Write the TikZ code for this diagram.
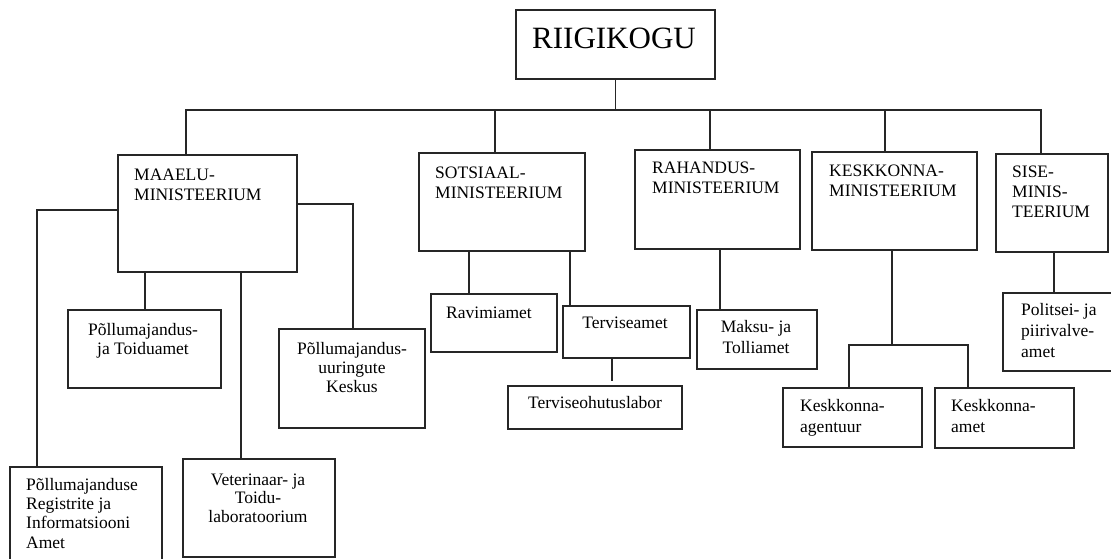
\documentclass[tikz,border=0pt]{standalone}
\usepackage{fontspec}
\setmainfont{Liberation Serif}
\newcommand\firstln{\rule{0pt}{13pt}}
\begin{document}
\begin{tikzpicture}[x=1pt,y=-1pt,
  boxnode/.style={draw=black!85, line width=1.6pt, inner sep=0pt, anchor=north west, rectangle},
  txt/.style={inner sep=0pt, font=\fontsize{17.5}{20}\selectfont, text=black},
  ltxt/.style={txt, anchor=north west, align=left},
  ctxt/.style={txt, anchor=north, align=center},
  conn/.style={draw=black!85, line width=1.5pt}]
\useasboundingbox (0,0) rectangle (1111,558);
\fill[white] (0,0) rectangle (1111,558);
\clip (0,0) rectangle (1111,558);

% boxes
\node[boxnode, minimum width=199pt, minimum height=69pt] (rii) at (515,9) {};
\node[boxnode, minimum width=179pt, minimum height=117pt] (maa) at (117,154) {};
\node[boxnode, minimum width=166pt, minimum height=98pt] (sot) at (418,152) {};
\node[boxnode, minimum width=165pt, minimum height=99pt] (rah) at (634,149) {};
\node[boxnode, minimum width=165pt, minimum height=98pt] (kk) at (811,151) {};
\node[boxnode, minimum width=112pt, minimum height=98pt] (sis) at (995,153) {};
\node[boxnode, minimum width=153pt, minimum height=78pt] (pta) at (67,309) {};
\node[boxnode, minimum width=146pt, minimum height=99pt] (puk) at (278,328) {};
\node[boxnode, minimum width=152pt, minimum height=134pt] (reg) at (9,466) {};
\node[boxnode, minimum width=152pt, minimum height=98pt] (vet) at (182,458) {};
\node[boxnode, minimum width=126pt, minimum height=58pt] (rav) at (430,293) {};
\node[boxnode, minimum width=127pt, minimum height=52pt] (ter) at (562,305) {};
\node[boxnode, minimum width=174pt, minimum height=43pt] (lab) at (507,385) {};
\node[boxnode, minimum width=120pt, minimum height=59pt] (mak) at (696,309) {};
\node[boxnode, minimum width=139pt, minimum height=59pt] (kag) at (782,387) {};
\node[boxnode, minimum width=139pt, minimum height=60pt] (kam) at (934,387) {};
\node[boxnode, minimum width=128pt, minimum height=78pt] (pol) at (1002,292) {};

% texts
\node[txt, font=\fontsize{31}{36}\selectfont, anchor=base] (trii) at (614,48) {RIIGIKOGU};
\node[ltxt] (tmaa) at (134,167) {\firstln MAAELU-\\MINISTEERIUM};
\node[ltxt] (tsot) at (435,165) {\firstln SOTSIAAL-\\MINISTEERIUM};
\node[ltxt] (trah) at (652,160) {\firstln RAHANDUS-\\MINISTEERIUM};
\node[ltxt] (tkk) at (829,163) {\firstln KESKKONNA-\\MINISTEERIUM};
\node[ltxt] (tsis) at (1012,164) {\firstln SISE-\\MINIS-\\TEERIUM};
\node[ctxt, font=\fontsize{17.5}{19}\selectfont] (tpta) at (143,322) {\firstln Põllumajandus-\\ja Toiduamet};
\node[ctxt, font=\fontsize{17.5}{19}\selectfont] (tpuk) at (352,341) {\firstln Põllumajandus-\\uuringute\\Keskus};
\node[ltxt, font=\fontsize{17.5}{19.3}\selectfont] (treg) at (26,477) {\firstln Põllumajanduse\\Registrite ja\\Informatsiooni\\Amet};
\node[ctxt, font=\fontsize{17.5}{18.5}\selectfont] (tvet) at (258,472) {\firstln Veterinaar- ja\\Toidu-\\laboratoorium};
\node[ctxt] (trav) at (489,305) {\firstln Ravimiamet};
\node[ctxt] (tter) at (625,315) {\firstln Terviseamet};
\node[ctxt] (tlab) at (595,395) {\firstln Terviseohutuslabor};
\node[ctxt, font=\fontsize{17.5}{21}\selectfont] (tmak) at (756,319) {\firstln Maksu- ja\\Tolliamet};
\node[ltxt, font=\fontsize{17.5}{21}\selectfont] (tkag) at (800,398) {\firstln Keskkonna-\\agentuur};
\node[ltxt, font=\fontsize{17.5}{21}\selectfont] (tkam) at (951,398) {\firstln Keskkonna-\\amet};
\node[ltxt, font=\fontsize{17.5}{21}\selectfont] (tpol) at (1021,302) {\firstln Politsei- ja\\piirivalve-\\amet};

% connector coordinates
\coordinate (busL) at (186,110);
\coordinate (busR) at (1041,110);
\coordinate (dS) at (495,110);
\coordinate (dR) at (710,110);
\coordinate (dK) at (885,110);
\coordinate (mL) at (37,210);
\coordinate (mR) at (353,204);
\coordinate (m1) at (145,0);
\coordinate (m2) at (241,0);
\coordinate (s1) at (469,0);
\coordinate (s2) at (570,0);
\coordinate (t1) at (612,0);
\coordinate (r1) at (720,0);
\coordinate (k1) at (892,345);
\coordinate (kL) at (849,345);
\coordinate (kR) at (968,345);
\coordinate (p1) at (1054,0);

% connectors
\draw[conn] (rii.south) -- (rii.south |- busL);
\draw[conn] (busL |- maa.north) -- (busL) -- (busR) -- (busR |- sis.north);
\draw[conn] (dS) -- (dS |- sot.north);
\draw[conn] (dR) -- (dR |- rah.north);
\draw[conn] (dK) -- (dK |- kk.north);
\draw[conn] (mL -| maa.west) -- (mL) -- (mL |- reg.north);
\draw[conn] (mR -| maa.east) -- (mR) -- (mR |- puk.north);
\draw[conn] (m1 |- maa.south) -- (m1 |- pta.north);
\draw[conn] (m2 |- maa.south) -- (m2 |- vet.north);
\draw[conn] (s1 |- sot.south) -- (s1 |- rav.north);
\draw[conn] (s2 |- sot.south) -- (s2 |- ter.north);
\draw[conn, shorten >=4pt] (t1 |- ter.south) -- (t1 |- lab.north);
\draw[conn] (r1 |- rah.south) -- (r1 |- mak.north);
\draw[conn] (k1 |- kk.south) -- (k1);
\draw[conn] (kL |- kag.north) -- (kL) -- (kR) -- (kR |- kam.north);
\draw[conn] (p1 |- sis.south) -- (p1 |- pol.north);
\end{tikzpicture}
\end{document}
